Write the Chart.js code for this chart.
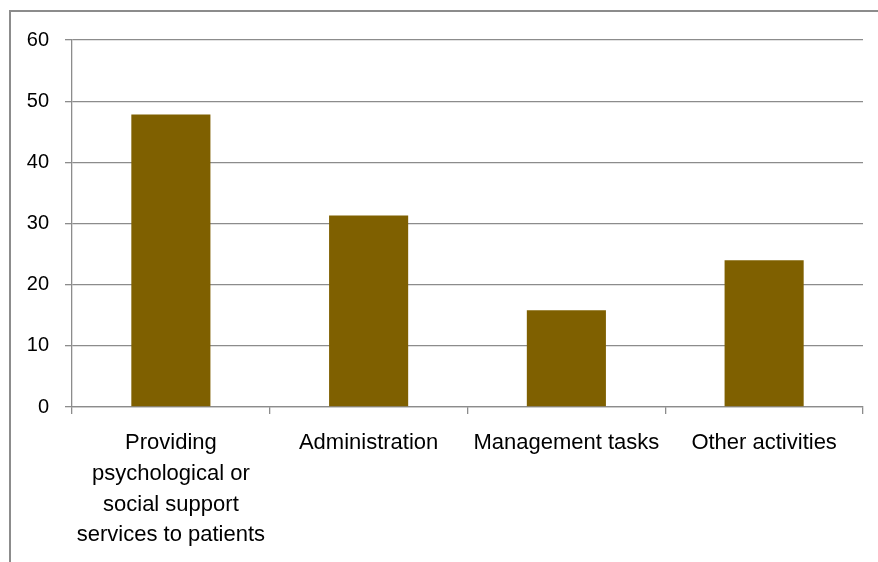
<!DOCTYPE html>
<html>
<head>
<meta charset="utf-8">
<script src="https://cdn.jsdelivr.net/npm/chart.js@4"></script>
<style>
  body { margin: 0; background: #fff; }
  #frame { position: absolute; left: 9px; top: 10px; width: 900px; height: 600px;
           border-left: 2px solid #8c8c8c; border-top: 2px solid #8c8c8c; }
  #wrap { position: absolute; left: 0; top: 0; width: 878px; height: 562px; }
</style>
</head>
<body>
<div id="frame"></div>
<div id="wrap"><canvas id="grafico"></canvas></div>
<script>
// dados do gráfico
const categorias = [
  ['Providing', 'psychological or', 'social support', 'services to patients'],
  'Administration',
  'Management tasks',
  'Other activities'
];
const valores = [47.8, 31.3, 15.8, 24.0];
const eixoY = { min: 0, max: 60, passo: 10 };

const cinza = '#8c8c8c';
const fonte = "'Liberation Sans', Arial, sans-serif";

new Chart(document.getElementById('grafico').getContext('2d'), {
  type: 'bar',
  data: {
    labels: categorias,
    datasets: [{
      data: valores,
      backgroundColor: '#7f6000',
      borderWidth: 0,
      barPercentage: 0.4,
      categoryPercentage: 1.0
    }]
  },
  options: {
    responsive: true,
    maintainAspectRatio: false,
    animation: false,
    layout: { padding: { left: 0, right: 15, top: 40, bottom: 0 } },
    plugins: { legend: { display: false }, tooltip: { enabled: false } },
    scales: {
      x: {
        grid: { drawOnChartArea: false, tickLength: 7, color: cinza, lineWidth: 1.3 },
        border: { color: cinza, width: 1.3 },
        ticks: {
          autoSkip: false, maxRotation: 0, color: '#000', padding: 14,
          font: { family: fonte, size: 22, lineHeight: 1.39 }
        },
        afterFit: (s) => { s.height = 155; }
      },
      y: {
        min: eixoY.min, max: eixoY.max,
        grid: { tickLength: 7, color: cinza, lineWidth: 1.3 },
        border: { color: cinza, width: 1.3 },
        ticks: {
          stepSize: eixoY.passo, color: '#000', padding: 16,
          font: { family: fonte, size: 20 }
        },
        afterFit: (s) => { s.width = 72; }
      }
    }
  }
});
</script>
</body>
</html>
